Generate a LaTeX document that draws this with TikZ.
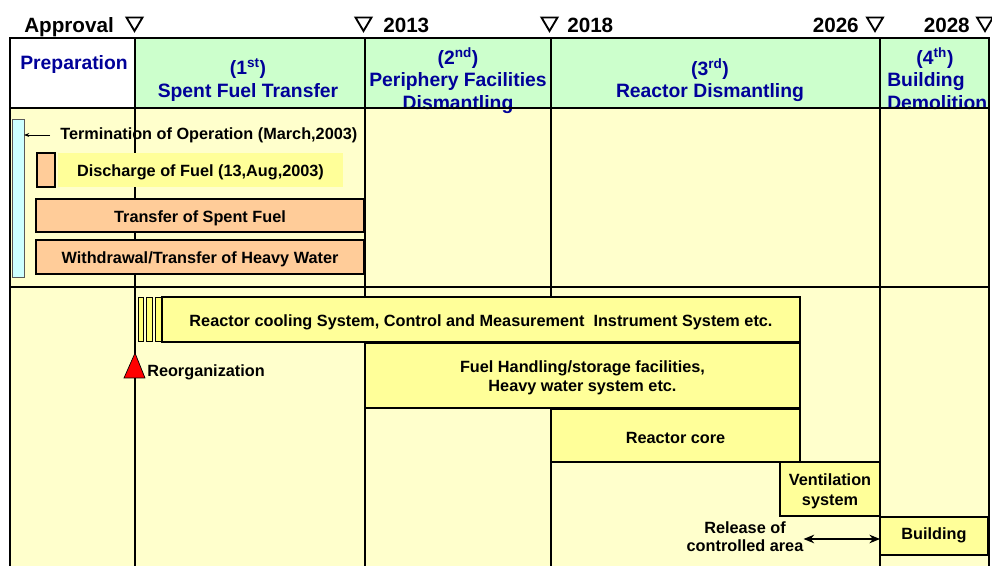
\documentclass[tikz,border=0pt]{standalone}
\usepackage{fontspec}
\setmainfont{Liberation Sans}
\usetikzlibrary{arrows.meta}
\definecolor{hdrgreen}{HTML}{CCFFCC}
\definecolor{bodyyel}{HTML}{FFFFCC}
\definecolor{boxyel}{HTML}{FFFF99}
\definecolor{boxorg}{HTML}{FFCC99}
\definecolor{barblue}{HTML}{CCFFFF}
\definecolor{hdrblue}{HTML}{000099}
\begin{document}
\begin{tikzpicture}[x=0.75pt,y=-0.75pt,
  wh/.style 2 args={minimum width=#1*0.75pt, minimum height=#2*0.75pt, anchor=north west, inner sep=0pt, outer sep=0pt},
  hdr/.style={font=\fontsize{14.5}{16.8}\selectfont\bfseries, text=hdrblue, align=center, inner sep=0pt},
  lbl/.style={font=\fontsize{12.2}{14.7}\selectfont\bfseries, inner sep=0pt, align=center},
  inlbl/.style={label={[lbl, yshift=-1.8pt]center:{#1}}},
  toplbl/.style={font=\fontsize{15.5}{18}\selectfont\bfseries, inner sep=0pt},
  obox/.style={draw=black, line width=1.4pt, fill=boxorg},
  ybox/.style={draw=black, line width=0.8pt, fill=boxyel},
  bluebar/.style={draw=gray!70!black, line width=0.6pt, fill=barblue},
  thick line/.style={line width=2.2pt},
  mid line/.style={line width=1.8pt},
  thin line/.style={line width=1.2pt},
  marktri/.style={line width=1.4pt, fill=white, line join=miter},
  bigtip/.style={line width=0.8pt, {Stealth[length=8pt,width=6.5pt]}-{Stealth[length=8pt,width=6.5pt]}}
]
\useasboundingbox (0,0) rectangle (992,566);
% backgrounds
\fill[white] (0,0) rectangle (992,566);
\fill[white] (10,38) rectangle (135,108);
\fill[hdrgreen] (135,38) rectangle (989,108);
\fill[bodyyel] (10,108) rectangle (989,566);

% top labels
\node[toplbl, anchor=base west] (appr) at (24,32.5) {Approval};
\node[toplbl, anchor=base west] (y13) at (383,32.5) {2013};
\node[toplbl, anchor=base west] (y18) at (567,32.5) {2018};
\node[toplbl, anchor=base east] (y26) at (859,32.5) {2026};
\node[toplbl, anchor=base east] (y28) at (970,32.5) {2028};
\foreach \x in {134.5,363.5,549.5,875,985}
  \draw[marktri] ({\x-8},17.5) -- ({\x+8},17.5) -- (\x,31) -- cycle;

% header texts
\node[hdr] (hprep) at (74,64.5) {Preparation};
\node[hdr] (h1) at (248,80) {(1\textsuperscript{st})\\Spent Fuel Transfer};
\node[hdr] (h2) at (458,80.5) {(2\textsuperscript{nd})\\Periphery Facilities\\Dismantling};
\node[hdr] (h3) at (710,80) {(3\textsuperscript{rd})\\Reactor Dismantling};
\node[hdr] (h4a) at (935,58.5) {(4\textsuperscript{th})};
\node[hdr, align=left, anchor=west] (h4b) at (887,91) {Building\\Demolition};

% text drawn below the grid lines
\node[lbl, anchor=west] (term) at (60,135) {Termination of Operation (March,2003)};

% grid lines
\draw[thick line] (10,566) -- (10,38) -- (989,38) -- (989,566);
\draw[thick line] (10,108) -- (989,108);
\foreach \x in {135,365,551,880}
  \draw[thick line] (\x,38) -- (\x,108);
\draw[thin line] (135,108) -- (135,566);
\foreach \x in {365,551,880}
  \draw[mid line] (\x,108) -- (\x,566);
\draw[line width=0.8pt] (10,287) -- (989,287);

% first block
\node[bluebar, wh={12}{158}] (bar) at (12,119) {};
\draw[line width=0.6pt, -{Stealth[length=4pt,width=3pt]}] ([xshift=-7.5pt]term.west) -- (term.west -| bar.east);
\node[obox, wh={18}{34}] (dsmall) at (37,153) {};
\node[wh={285}{34}, fill=boxyel, inlbl={Discharge of Fuel (13,Aug,2003)}] (disch) at (58,153) {};
\node[obox, wh={328}{33}, inlbl={Transfer of Spent Fuel}] (tsf) at (36,199) {};
\node[obox, wh={328}{34}, inlbl={Withdrawal/Transfer of Heavy Water}] (whw) at (36,240) {};

% second block
\node[ybox, line width=0.6pt, fill=boxyel!80!yellow, wh={5}{44}] (s1) at (138,297) {};
\node[ybox, line width=0.6pt, fill=boxyel!80!yellow, wh={6}{44}] (s2) at (146,297) {};
\node[ybox, line width=0.6pt, fill=boxyel!80!yellow, wh={7}{44}] (s3) at (155,297) {};
\node[ybox, wh={638}{45}, inlbl={Reactor cooling System, Control and Measurement\ \ Instrument System etc.}] (rcs) at (162,297) {};
\node[ybox, wh={435}{65}, inlbl={Fuel Handling/storage facilities,\\Heavy water system etc.}] (fhs) at (365,343) {};
\node[ybox, wh={249}{53}, inlbl={Reactor core}] (core) at (551,409) {};
\node[ybox, wh={100}{54}, inlbl={Ventilation\\system}] (vent) at (780,462) {};
\node[ybox, wh={108}{38}, label={[lbl, yshift=0.4pt]center:Building}] (bld) at (880,517) {};

\draw[fill=red, line width=0.5pt] (124,378) -- (135,353) -- (145,378) -- cycle;
\node[lbl, anchor=west] (reorg) at (147,372.5) {Reorganization};
\node[lbl, font=\fontsize{12.2}{13.5}\selectfont\bfseries] (rel) at (745,537) {Release of\\controlled area};
\draw[bigtip] (rel.east |- 0,539) -- (bld.west |- 0,539);
\end{tikzpicture}
\end{document}
